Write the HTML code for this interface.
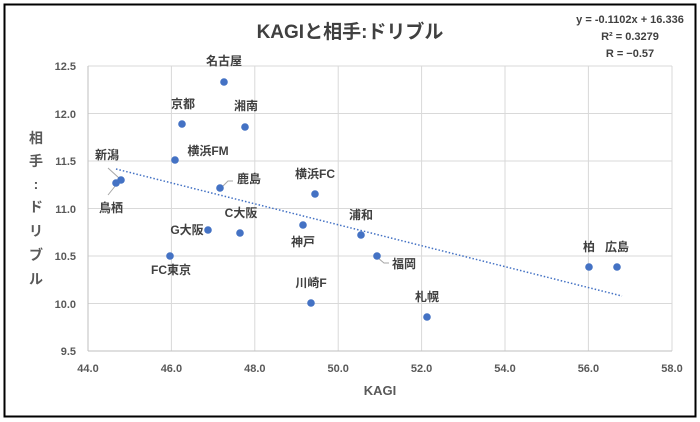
<!DOCTYPE html>
<html><head><meta charset="utf-8"><style>
html,body{margin:0;padding:0;background:#fff;}
svg{display:block;font-family:"Liberation Sans","Noto Sans CJK JP",sans-serif;}
</style></head><body>
<svg width="700" height="422" viewBox="0 0 700 422">
<rect x="0" y="0" width="700" height="422" fill="#fff"/>
<rect x="4.5" y="4.5" width="691" height="412" fill="none" stroke="#000" stroke-width="2"/>
<g stroke="#d9d9d9" stroke-width="1">
<line x1="88" y1="66" x2="672" y2="66"/>
<line x1="88" y1="113.5" x2="672" y2="113.5"/>
<line x1="88" y1="161" x2="672" y2="161"/>
<line x1="88" y1="208.5" x2="672" y2="208.5"/>
<line x1="88" y1="256" x2="672" y2="256"/>
<line x1="88" y1="303.5" x2="672" y2="303.5"/>
<line x1="171.4" y1="66" x2="171.4" y2="351"/>
<line x1="254.8" y1="66" x2="254.8" y2="351"/>
<line x1="338.2" y1="66" x2="338.2" y2="351"/>
<line x1="421.6" y1="66" x2="421.6" y2="351"/>
<line x1="505" y1="66" x2="505" y2="351"/>
<line x1="588.4" y1="66" x2="588.4" y2="351"/>
<line x1="672" y1="66" x2="672" y2="351"/>
</g>
<line x1="88" y1="351" x2="672" y2="351" stroke="#bfbfbf"/>
<line x1="88" y1="66" x2="88" y2="351" stroke="#bfbfbf"/>
<text x="350" y="38" text-anchor="middle" font-size="19" font-weight="bold" fill="#404040">KAGIと相手:ドリブル</text>
<g font-size="11" fill="#404040" text-anchor="middle" font-weight="bold">
<text x="630" y="23">y = -0.1102x + 16.336</text>
<text x="630" y="40">R² = 0.3279</text>
<text x="630" y="57">R = −0.57</text>
</g>
<g font-size="11" fill="#595959" font-weight="bold" text-anchor="end">
<text x="76" y="70">12.5</text><text x="76" y="118">12.0</text><text x="76" y="165">11.5</text>
<text x="76" y="213">11.0</text><text x="76" y="260">10.5</text><text x="76" y="308">10.0</text><text x="76" y="355">9.5</text>
</g>
<g font-size="11" fill="#595959" font-weight="bold" text-anchor="middle">
<text x="88" y="372">44.0</text><text x="171.4" y="372">46.0</text><text x="254.8" y="372">48.0</text>
<text x="338.2" y="372">50.0</text><text x="421.6" y="372">52.0</text><text x="505" y="372">54.0</text>
<text x="588.4" y="372">56.0</text><text x="672" y="372">58.0</text>
</g>
<text x="380" y="395" text-anchor="middle" font-size="13" font-weight="bold" fill="#595959">KAGI</text>
<g font-size="14" fill="#595959" font-weight="bold" text-anchor="middle">
<text x="36" y="143">相</text><text x="36" y="166">手</text><text x="36" y="189">:</text>
<text x="36" y="212">ド</text><text x="36" y="236">リ</text><text x="36" y="260">ブ</text><text x="36" y="284">ル</text>
</g>
<line x1="116" y1="169" x2="622" y2="296" stroke="#4472c4" stroke-width="1.5" stroke-dasharray="1.5,2"/>
<g stroke="#a6a6a6" stroke-width="1" fill="none">
<polyline points="108,168 119,178"/><polyline points="108,195 116,185"/>
<polyline points="222,187 228,181 233,181"/>
<polyline points="378,258 384,263 389,263"/>
</g>
<g fill="#4472c4">
<circle cx="224" cy="82" r="3.8"/><circle cx="182" cy="124" r="3.8"/><circle cx="245" cy="127" r="3.8"/>
<circle cx="175" cy="160" r="3.8"/><circle cx="121" cy="180" r="3.8"/><circle cx="116" cy="183" r="3.8"/>
<circle cx="220" cy="188" r="3.8"/><circle cx="315" cy="194" r="3.8"/><circle cx="240" cy="233" r="3.8"/>
<circle cx="208" cy="230" r="3.8"/><circle cx="303" cy="225" r="3.8"/><circle cx="361" cy="235" r="3.8"/>
<circle cx="377" cy="256" r="3.8"/><circle cx="170" cy="256" r="3.8"/><circle cx="311" cy="303" r="3.8"/>
<circle cx="427" cy="317" r="3.8"/><circle cx="589" cy="267" r="3.8"/><circle cx="617" cy="267" r="3.8"/>
</g>
<g font-size="12" fill="#404040" font-weight="bold" text-anchor="middle">
<text x="224" y="65">名古屋</text><text x="183" y="108">京都</text><text x="246" y="110">湘南</text>
<text x="208" y="155">横浜FM</text><text x="107" y="159">新潟</text><text x="111" y="212">鳥栖</text>
<text x="249" y="183">鹿島</text><text x="315" y="178">横浜FC</text><text x="241" y="217">C大阪</text>
<text x="187" y="234">G大阪</text><text x="303" y="246">神戸</text><text x="361" y="219">浦和</text>
<text x="404" y="268">福岡</text><text x="171" y="274">FC東京</text><text x="311" y="287">川崎F</text>
<text x="427" y="301">札幌</text><text x="589" y="251">柏</text><text x="617" y="251">広島</text>
</g>
</svg>
</body></html>
